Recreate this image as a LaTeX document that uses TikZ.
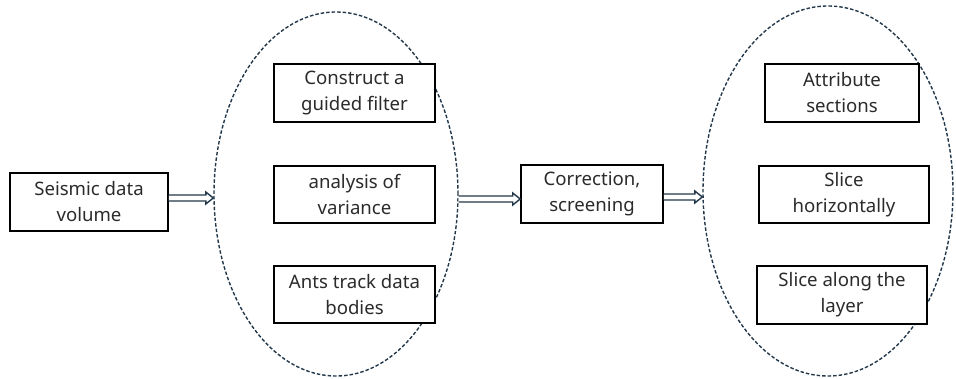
\documentclass[tikz,border=0pt]{standalone}
\usepackage{fontspec}
\setmainfont{Noto Sans}
\usetikzlibrary{arrows.meta,shapes.geometric,calc}
\definecolor{navy}{HTML}{22384A}
\definecolor{txt}{HTML}{2B2B2B}
\begin{document}
\begin{tikzpicture}[x=1pt,y=-1pt,
  box/.style={draw=black,line width=1.6pt,fill=white,align=center,inner sep=0pt,
    text=txt,font=\fontsize{18.6}{26}\selectfont},
  grp/.style={draw=navy,ellipse,line width=1.4pt,dash pattern=on 3.5pt off 2pt,inner sep=0pt},
  blockarr/.style={draw=navy,fill=white,line width=1.4pt,line join=miter,
    to path={let \p1=(\tikztostart), \p2=(\tikztotarget) in
      (\x1,\y1+3pt) -- (\x2-7.5pt,\y1+3pt) -- (\x2-7.5pt,\y1+6pt) -- (\x2,\y1)
      -- (\x2-7.5pt,\y1-6pt) -- (\x2-7.5pt,\y1-3pt) -- (\x1,\y1-3pt)}}]
\useasboundingbox (0,0) rectangle (956,379);
\node[grp,minimum width=244,minimum height=364] (e1) at (336,194) {};
\node[grp,minimum width=250,minimum height=370] (e2) at (828,191) {};
\node[box,minimum width=158,minimum height=58] (b1) at (89,202) {Seismic data\\volume};
\node[box,minimum width=161,minimum height=58] (g1) at (354.5,93) {Construct a\\guided filter};
\node[box,minimum width=161,minimum height=57] (g2) at (354.5,194.5) {analysis of\\variance};
\node[box,minimum width=161,minimum height=57] (g3) at (354.5,294.5) {Ants track data\\bodies};
\node[box,minimum width=142,minimum height=58] (b3) at (592,194) {Correction,\\screening};
\node[box,minimum width=154,minimum height=58] (h1) at (842,93) {Attribute\\sections};
\node[box,minimum width=170,minimum height=57] (h2) at (844,194.5) {Slice\\horizontally};
\node[box,minimum width=170,minimum height=58] (h3) at (842,295) {Slice along the\\layer};
\draw[blockarr] ([yshift=4pt]b1.east) to ([yshift=4pt]b1.east -| e1.west);
\draw[blockarr] ([yshift=-5pt]e1.east) to ([yshift=-5pt]e1.east -| b3.west);
\draw[blockarr] ([yshift=-3pt]b3.east) to ([yshift=-3pt]b3.east -| e2.west);
\end{tikzpicture}
\end{document}
